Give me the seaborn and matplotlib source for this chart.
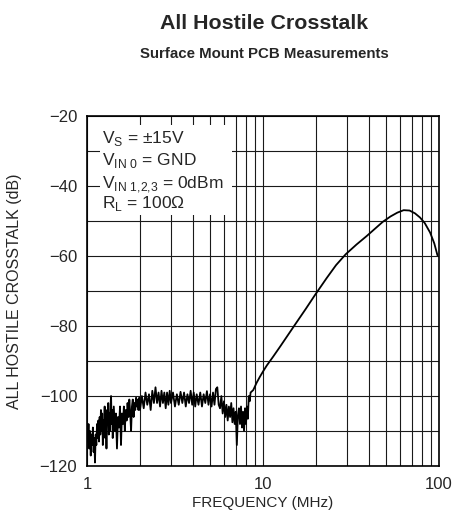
import numpy as np
import matplotlib
matplotlib.use("Agg")
import matplotlib.pyplot as plt
import seaborn as sns
from matplotlib import font_manager
from matplotlib.patches import Rectangle
from matplotlib.ticker import FixedLocator, NullFormatter

# data (frequency in MHz, crosstalk in dB)
freq_noise = [1.00, 1.01, 1.02, 1.03, 1.04, 1.05, 1.06, 1.07, 1.08, 1.09,
              1.10, 1.11, 1.12, 1.13, 1.14, 1.15, 1.16, 1.17, 1.18, 1.19,
              1.20, 1.21, 1.22, 1.23, 1.24, 1.25, 1.26, 1.27, 1.28, 1.29,
              1.30, 1.31, 1.32, 1.33, 1.34, 1.35, 1.36, 1.37, 1.38, 1.39,
              1.40, 1.42, 1.44, 1.46, 1.48, 1.50, 1.52, 1.54, 1.56, 1.58,
              1.60, 1.62, 1.64, 1.66, 1.68, 1.70, 1.72, 1.74, 1.76, 1.78,
              1.80, 1.82, 1.84, 1.86, 1.88, 1.90, 1.92, 1.94, 1.96, 1.98,
              2.00, 2.05, 2.10, 2.15, 2.20, 2.25, 2.30, 2.35, 2.40, 2.45,
              2.50, 2.55, 2.60, 2.65, 2.70, 2.75, 2.80, 2.85, 2.90, 2.95,
              3.00, 3.08, 3.16, 3.24, 3.32, 3.40, 3.48, 3.56, 3.64, 3.72,
              3.80, 3.88, 3.96, 4.04, 4.12, 4.20, 4.30, 4.40, 4.50, 4.60,
              4.70, 4.80, 4.90, 5.00, 5.10, 5.20, 5.30, 5.40, 5.50, 5.60,
              5.70, 5.80, 5.90, 6.00, 6.10, 6.20, 6.30, 6.40, 6.50, 6.60,
              6.70, 6.80, 6.90, 7.00, 7.05, 7.10, 7.15, 7.20, 7.30, 7.40,
              7.50, 7.60, 7.70, 7.80, 7.90, 8.00, 8.10, 8.20, 8.30, 8.40,
              8.50]
db_noise = [-109, -113, -108, -115, -110, -117, -111, -114, -109, -116,
            -112, -119, -111, -114, -108, -112, -107, -113, -106, -111,
            -104, -110, -105, -114, -107, -109, -103, -112, -106, -115,
            -104, -108, -102, -111, -105, -110, -103, -100, -108, -104,
            -112, -103, -110, -105, -115, -106, -109, -103, -114, -105,
            -108, -103, -110, -104, -107, -102, -106, -101, -105, -110,
            -103, -101, -106, -102, -104, -100.5, -103, -101, -104, -100.5,
            -104, -100, -103.5, -99, -102.5, -99.5, -104, -98.5, -102, -97.5,
            -102, -99, -103, -98.5, -102, -99, -103.5, -99, -102.5, -98.5,
            -102, -99, -103, -99.5, -102.5, -98.8, -102, -99, -103, -99.5,
            -102, -98.5, -102.5, -99, -103, -99.5, -102.5, -99, -103, -99.5,
            -102, -98.6, -102.5, -99.5, -103, -99, -102.5, -98, -97.5, -102.5,
            -103.5, -100, -105, -101.5, -106, -102.5, -107, -103, -106, -102,
            -107.5, -103.5, -108, -104.5, -109, -114, -110, -105.5, -103.5, -108,
            -103, -109, -104.5, -110, -103.5, -108, -103, -106.5, -100, -101.5,
            -99]
freq_rise = [8.8, 9.2, 9.6, 10.0, 10.5, 11.4, 12.5, 13.5, 15.2, 17.5,
             19.7, 23, 26, 29.5, 34, 38.8, 43, 48, 53, 58,
             63, 68, 73, 78, 83, 89, 94, 98]
db_rise = [-98.3, -96.2, -94.5, -93, -91.3, -88.8, -85.9, -83.4, -79.6, -75.1,
           -71.2, -66.3, -62.6, -59.5, -56.7, -54.3, -52.3, -50.2, -48.7, -47.6,
           -46.9, -47.0, -47.8, -49.0, -50.6, -53.3, -56.4, -59.8]

freq = freq_noise + freq_rise
db = db_noise + db_rise

x_ticks = [1, 10, 100]
x_ticklabels = ["1", "10", "100"]
y_ticks = [-120, -100, -80, -60, -40, -20]
y_ticklabels = ["\u2212120", "\u2212100", "\u221280", "\u221260", "\u221240", "\u221220"]
conditions = ["V$_\\mathregular{S}$ = \u00b115V",
              "V$_\\mathregular{IN\\ 0}$ = GND",
              "V$_\\mathregular{IN\\ 1{,}2{,}3}$ = 0dBm",
              "R$_\\mathregular{L}$ = 100\u03a9"]

sns.set_style("white")
plt.rcParams['font.family'] = ['Liberation Sans', 'DejaVu Sans']
plt.rcParams['mathtext.fontset'] = 'custom'
plt.rcParams['mathtext.rm'] = 'Liberation Sans'

# narrow face for the headings if the system has it
installed = {f.name for f in font_manager.fontManager.ttflist}
if 'Liberation Sans Narrow' in installed:
    head_font, title_size, sub_size = 'Liberation Sans Narrow', 18.5, 12.8
else:
    head_font, title_size, sub_size = 'Liberation Sans', 15.4, 10.8

fig = plt.figure(figsize=(4.66, 5.17), dpi=100)
ax = fig.add_axes([0.1867, 0.0986, 0.7554, 0.677])

sns.lineplot(x=freq, y=db, ax=ax, color='black', lw=1.3, estimator=None, zorder=4)

ax.set_xscale('log')
ax.set_xlim(1, 100)
ax.set_ylim(-120, -20)

# log grid: every integer per decade, every 10 dB
minor_x = [m * d for d in (1, 10) for m in range(2, 10)]
ax.xaxis.set_minor_locator(FixedLocator(minor_x))
ax.xaxis.set_minor_formatter(NullFormatter())
ax.set_xticks(x_ticks)
ax.set_xticklabels(x_ticklabels)
ax.yaxis.set_minor_locator(FixedLocator([-110, -90, -70, -50, -30]))
ax.set_yticks(y_ticks)
ax.set_yticklabels(y_ticklabels)
ax.grid(which='both', color='0.1', lw=0.8, zorder=1)
ax.tick_params(which='both', length=0, labelsize=12)
ax.tick_params(axis='x', pad=8)
ax.tick_params(axis='y', pad=7)
for s in ax.spines.values():
    s.set_color('black')
    s.set_linewidth(1.2)

# white panel behind the conditions text
ax.add_patch(Rectangle((0.037, 0.717), 0.375, 0.257, transform=ax.transAxes,
                       facecolor='white', edgecolor='none', zorder=2))
for line, yb in zip(conditions, [0.923, 0.86, 0.794, 0.737]):
    ax.text(0.043, yb, line, transform=ax.transAxes, ha='left', va='baseline',
            fontsize=12.5, zorder=3)

ax.set_xlabel("FREQUENCY (MHz)", fontsize=11, labelpad=3)
ax.set_ylabel("ALL HOSTILE CROSSTALK (dB)", fontsize=11.5)
ax.yaxis.set_label_coords(-0.185, 0.5)

fig.text(0.5665, 0.955, "All Hostile Crosstalk", ha='center', va='center',
         fontsize=title_size, fontweight='bold', family=[head_font, 'DejaVu Sans'])
fig.text(0.5665, 0.896, "Surface Mount PCB Measurements", ha='center', va='center',
         fontsize=sub_size, fontweight='bold', family=[head_font, 'DejaVu Sans'])

fig.savefig("out.png", dpi=100)
